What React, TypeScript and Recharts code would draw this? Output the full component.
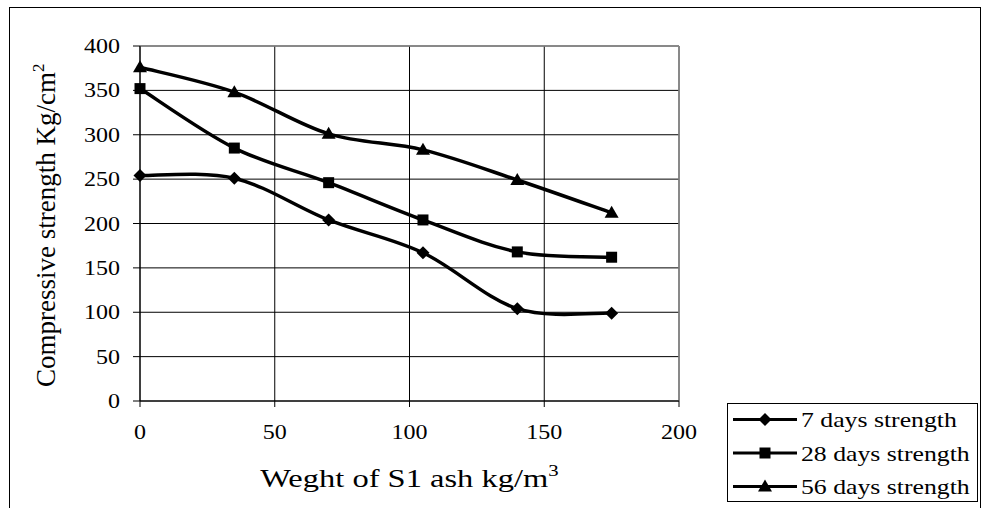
import React from 'react';
import {
  LineChart,
  Line,
  XAxis,
  YAxis,
  CartesianGrid,
  Legend,
  ReferenceLine,
  Label,
} from 'recharts';

// Ash dosage (kg/m3) on the horizontal axis
const ashWeights = [0, 35, 70, 105, 140, 175];
// Compressive strength (kg/cm2) at each curing age
const strength7 = [254, 251, 204, 167, 104, 99];
const strength28 = [352, 285, 246, 204, 168, 162];
const strength56 = [376, 348, 301, 283, 249, 212];
const seriesNames = ['7 days strength', '28 days strength', '56 days strength'];
const xTicks = [0, 50, 100, 150, 200];
const yTicks = [0, 50, 100, 150, 200, 250, 300, 350, 400];

const data = ashWeights.map((w, i) => ({
  w,
  s7: strength7[i],
  s28: strength28[i],
  s56: strength56[i],
}));

const FONT = 'Liberation Serif, Times New Roman, serif';

// Smoothed Bezier line (Catmull-Rom style control points, like spreadsheet "smoothed lines")
const smoothCurve = (context: any) => {
  let pts: [number, number][] = [];
  return {
    areaStart() {},
    areaEnd() {},
    lineStart() {
      pts = [];
    },
    point(x: number, y: number) {
      pts.push([+x, +y]);
    },
    lineEnd() {
      if (!pts.length) return;
      context.moveTo(pts[0][0], pts[0][1]);
      for (let i = 0; i < pts.length - 1; i++) {
        const p0 = pts[Math.max(i - 1, 0)];
        const p1 = pts[i];
        const p2 = pts[i + 1];
        const p3 = pts[Math.min(i + 2, pts.length - 1)];
        const c1x = p1[0] + (p2[0] - p0[0]) / 6;
        const c1y = p1[1] + (p2[1] - p0[1]) / 6;
        const c2x = p2[0] - (p3[0] - p1[0]) / 6;
        const c2y = p2[1] - (p3[1] - p1[1]) / 6;
        context.bezierCurveTo(c1x, c1y, c2x, c2y, p2[0], p2[1]);
      }
    },
  };
};

type Shape = 'diamond' | 'square' | 'triangle';

const markerPath = (shape: Shape, cx: number, cy: number) => {
  if (shape === 'diamond') {
    const r = 6.5;
    return `M${cx},${cy - r}L${cx + r},${cy}L${cx},${cy + r}L${cx - r},${cy}Z`;
  }
  if (shape === 'square') {
    const r = 5.5;
    return `M${cx - r},${cy - r}H${cx + r}V${cy + r}H${cx - r}Z`;
  }
  return `M${cx},${cy - 7}L${cx + 7},${cy + 5}L${cx - 7},${cy + 5}Z`;
};

const makeDot = (shape: Shape) => (props: any) => {
  const { cx, cy, index } = props;
  if (cx == null || cy == null) return <g key={`n-${index}`} />;
  return <path key={`${shape}-${index}`} d={markerPath(shape, cx, cy)} fill="#000" stroke="none" />;
};

const shapes: Shape[] = ['diamond', 'square', 'triangle'];

// Text drawn with a slight horizontal widening
const WideText = ({ x, y, sx, size, anchor, children }: any) => (
  <text
    transform={`translate(${x}, ${y}) scale(${sx}, 1)`}
    x={0}
    y={0}
    textAnchor={anchor}
    fontFamily={FONT}
    fontSize={size}
    fill="#000"
  >
    {children}
  </text>
);

const XTick = (props: any) => {
  const { x, y, payload } = props;
  return (
    <WideText x={x} y={y + 6} sx={1.2} size={20} anchor="middle">
      {payload.value}
    </WideText>
  );
};

const YTick = (props: any) => {
  const { x, y, payload } = props;
  return (
    <WideText x={x} y={y + 7} sx={1.2} size={20} anchor="end">
      {payload.value}
    </WideText>
  );
};

const LegendBox = () => (
  <svg width={252} height={100} style={{ display: 'block' }}>
    <rect x={0.5} y={0.5} width={250} height={98} fill="#fff" stroke="#000" strokeWidth={1} />
    {seriesNames.map((name, i) => {
      const y = 16.5 + i * 33.5;
      return (
        <g key={name}>
          <line x1={6} x2={70} y1={y} y2={y} stroke="#000" strokeWidth={3} />
          <path d={markerPath(shapes[i], 38, y)} fill="#000" />
          <WideText x={74} y={y + 7.5} sx={1.17} size={22} anchor="start">
            {name}
          </WideText>
        </g>
      );
    })}
  </svg>
);

const YTitle = () => {
  const bx = 55;
  const by = 387;
  return (
    <text
      x={bx}
      y={by}
      transform={`rotate(-90, ${bx}, ${by})`}
      textAnchor="start"
      fontFamily={FONT}
      fontSize={27}
      fill="#000"
    >
      Compressive strength Kg/cm
      <tspan dy={-11} fontSize={17}>
        2
      </tspan>
    </text>
  );
};

const XTitle = (props: any) => {
  const { viewBox } = props;
  const cx = viewBox.x + viewBox.width / 2;
  return (
    <WideText x={cx} y={487} sx={1.3} size={25} anchor="middle">
      Weght of S1 ash kg/m
      <tspan dy={-11} fontSize={16}>
        3
      </tspan>
    </WideText>
  );
};

export default function App() {
  return (
    <div style={{ position: 'absolute', left: 0, top: 0, width: 982, height: 508, background: '#fff', overflow: 'hidden' }}>
      <div
        style={{
          position: 'absolute',
          left: 9,
          top: 7,
          width: 972,
          height: 520,
          border: '1px solid #000',
          boxSizing: 'border-box',
        }}
      />
      <div style={{ position: 'absolute', left: 0, top: 0 }}>
        <LineChart
          width={982}
          height={508}
          data={data}
          margin={{ top: 46, right: 51, bottom: 77, left: 80 }}
        >
          <CartesianGrid stroke="#000" strokeWidth={1} />
          <XAxis
            type="number"
            dataKey="w"
            domain={[0, 200]}
            ticks={xTicks}
            interval={0}
            height={30}
            stroke="#000"
            tickLine={{ stroke: '#000' }}
            tickSize={6}
            tickMargin={26}
            tick={<XTick />}
          >
            <Label content={<XTitle />} />
          </XAxis>
          <YAxis
            type="number"
            domain={[0, 400]}
            ticks={yTicks}
            interval={0}
            width={60}
            stroke="#000"
            tickLine={{ stroke: '#000' }}
            tickSize={7}
            tickMargin={13}
            tick={<YTick />}
          >
            <Label content={<YTitle />} />
          </YAxis>
          <ReferenceLine y={400} stroke="#8c8c8c" strokeWidth={1.5} />
          <ReferenceLine x={200} stroke="#8c8c8c" strokeWidth={1.5} />
          <Legend
            layout="vertical"
            verticalAlign="middle"
            align="right"
            content={<LegendBox />}
            wrapperStyle={{ position: 'absolute', left: 727, top: 403, width: 252, height: 100 }}
          />
          <Line
            dataKey="s7"
            name={seriesNames[0]}
            type={smoothCurve as any}
            stroke="#000"
            strokeWidth={3.5}
            dot={makeDot('diamond')}
            activeDot={false}
            isAnimationActive={false}
          />
          <Line
            dataKey="s28"
            name={seriesNames[1]}
            type={smoothCurve as any}
            stroke="#000"
            strokeWidth={3.5}
            dot={makeDot('square')}
            activeDot={false}
            isAnimationActive={false}
          />
          <Line
            dataKey="s56"
            name={seriesNames[2]}
            type={smoothCurve as any}
            stroke="#000"
            strokeWidth={3.5}
            dot={makeDot('triangle')}
            activeDot={false}
            isAnimationActive={false}
          />
        </LineChart>
      </div>
    </div>
  );
}
